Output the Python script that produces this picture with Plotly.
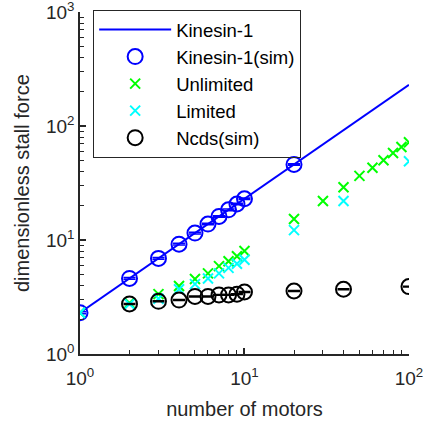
import plotly.graph_objects as go

# Data
line_n = [1, 100]
line_f = [2.3, 230]

kin_n = [1, 2, 3, 4, 5, 6, 7, 8, 9, 10, 20]
kin_f = [2.3, 4.6, 6.9, 9.2, 11.5, 13.8, 16.1, 18.4, 20.7, 23.0, 46.0]
kin_err = [0.05, 0.08, 0.12, 0.15, 0.2, 0.22, 0.25, 0.3, 0.33, 0.35, 0.7]

unl_n = [1, 2, 3, 4, 5, 6, 7, 8, 9, 10, 20, 30, 40, 50, 60, 70, 80, 90, 100]
unl_f = [2.3, 2.8, 3.35, 3.95, 4.55, 5.1, 5.9, 6.5, 7.2, 8.0, 15.3, 22.0, 29.0, 36.5, 43.0, 50.0, 58.0, 65.5, 72.0]

lim_n = [1, 2, 3, 4, 5, 6, 7, 8, 9, 10, 20, 40, 100]
lim_f = [2.3, 2.75, 3.05, 3.7, 4.1, 4.6, 5.1, 5.7, 6.2, 6.7, 12.2, 22.0, 49.0]

ncd_n = [2, 3, 4, 5, 6, 7, 8, 9, 10, 20, 40, 100]
ncd_f = [2.75, 2.9, 2.97, 3.2, 3.2, 3.3, 3.3, 3.35, 3.5, 3.57, 3.7, 3.9]
ncd_err = [0.03, 0.03, 0.03, 0.03, 0.03, 0.03, 0.03, 0.03, 0.03, 0.03, 0.03, 0.03]

x_tickvals = [1, 10, 100]
x_ticktext = ["10<sup>0</sup>", "10<sup>1</sup>", "10<sup>2</sup>"]
y_tickvals = [1, 10, 100, 1000]
y_ticktext = ["10<sup>0</sup>", "10<sup>1</sup>", "10<sup>2</sup>", "10<sup>3</sup>"]

FONT = "Liberation Sans, Arial, sans-serif"
AX = "#262626"

fig = go.Figure()
fig.add_trace(go.Scatter(x=line_n, y=line_f, mode="lines", name="Kinesin-1",
                         line=dict(color="#0000FF", width=2)))
fig.add_trace(go.Scatter(x=kin_n, y=kin_f, mode="markers", name="Kinesin-1(sim)",
                         marker=dict(symbol="circle-open", size=15, color="#0000FF",
                                     line=dict(width=2, color="#0000FF")),
                         error_y=dict(type="data", array=kin_err, color="#0000FF",
                                      thickness=1.5, width=6)))
fig.add_trace(go.Scatter(x=unl_n, y=unl_f, mode="markers", name="Unlimited",
                         marker=dict(symbol="x-thin", size=10, color="#00FF00",
                                     line=dict(width=2, color="#00FF00"))))
fig.add_trace(go.Scatter(x=lim_n, y=lim_f, mode="markers", name="Limited",
                         marker=dict(symbol="x-thin", size=10, color="#00FFFF",
                                     line=dict(width=2, color="#00FFFF"))))
fig.add_trace(go.Scatter(x=ncd_n, y=ncd_f, mode="markers", name="Ncds(sim)",
                         marker=dict(symbol="circle-open", size=15, color="#000000",
                                     line=dict(width=2, color="#000000")),
                         error_y=dict(type="data", array=ncd_err, color="#000000",
                                      thickness=1.5, width=6)))

fig.update_layout(
    width=424, height=423,
    margin=dict(l=80, r=15, t=11, b=69),
    paper_bgcolor="white", plot_bgcolor="white",
    font=dict(family=FONT, size=20, color=AX),
    showlegend=True,
    legend=dict(x=0.04, y=1.003, xanchor="left", yanchor="top",
                bordercolor=AX, borderwidth=1, bgcolor="rgba(255,255,255,0)",
                font=dict(family=FONT, size=18.5, color="#000000"),
                itemwidth=72, tracegroupgap=0),
    annotations=[dict(text="dimensionless stall force", textangle=-90,
                      xref="paper", yref="paper", x=-0.176, y=0.5,
                      xanchor="center", yanchor="middle", showarrow=False,
                      font=dict(family=FONT, size=20, color=AX))],
)
fig.update_xaxes(type="log", range=[0, 2.0002], showgrid=False, zeroline=False,
                 showline=True, linecolor=AX, linewidth=1.5, mirror=False, automargin=False,
                 ticks="inside", ticklen=6, tickwidth=1.5, tickcolor=AX,
                 tickvals=x_tickvals, ticktext=x_ticktext, ticklabeloverflow="allow",
                 ticklabelstandoff=6,
                 tickfont=dict(family=FONT, size=19, color=AX),
                 minor=dict(ticks="inside", ticklen=4, tickwidth=1, tickcolor=AX, dtick="D1", showgrid=False),
                 title=dict(text="number of motors", font=dict(family=FONT, size=20, color=AX), standoff=14))
fig.update_yaxes(type="log", range=[0, 3.0002], showgrid=False, zeroline=False,
                 showline=True, linecolor=AX, linewidth=1.5, mirror=False, automargin=False,
                 ticks="inside", ticklen=6, tickwidth=1.5, tickcolor=AX,
                 tickvals=y_tickvals, ticktext=y_ticktext, ticklabeloverflow="allow",
                 tickfont=dict(family=FONT, size=19, color=AX),
                 minor=dict(ticks="inside", ticklen=4, tickwidth=1, tickcolor=AX, dtick="D1", showgrid=False))

fig.write_html("out.html")
